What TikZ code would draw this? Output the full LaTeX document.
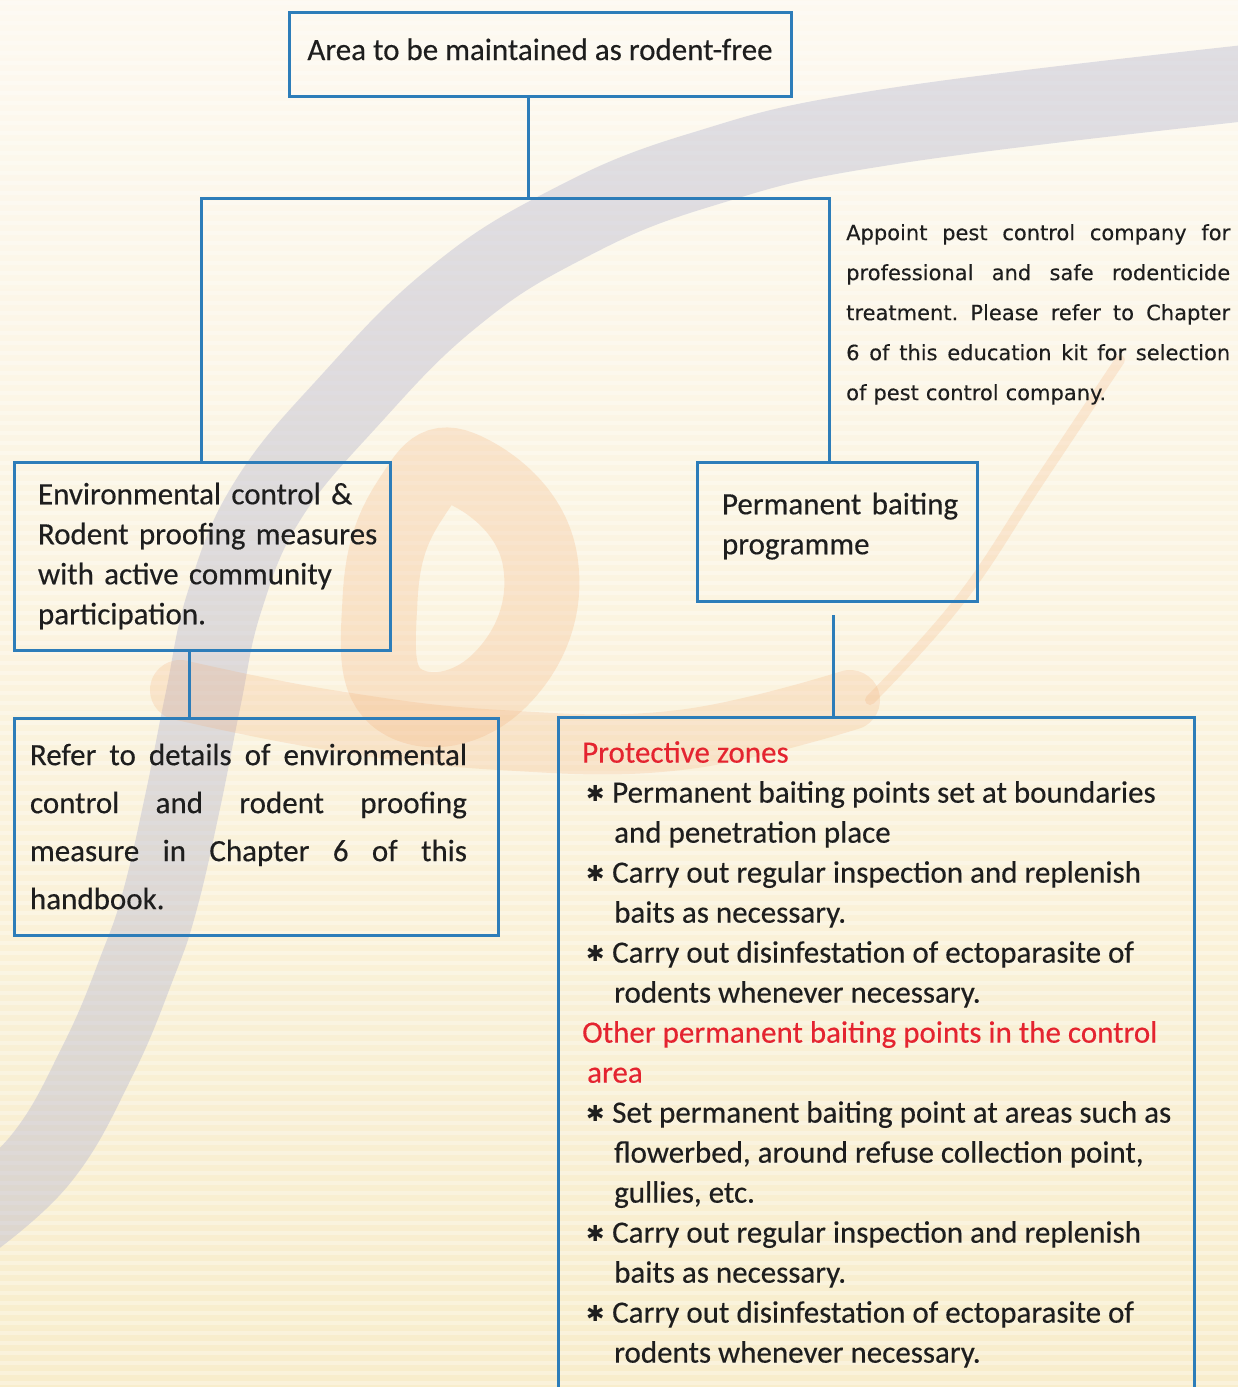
\documentclass[tikz,border=0pt]{standalone}
\usepackage{fontspec}
\setmainfont{Carlito}[FakeBold=0.35]
\newfontfamily\notefont{DejaVu Sans}[FakeBold=0.3]
\newfontfamily\symfont{DejaVu Sans}
\definecolor{boxblue}{RGB}{45,125,185}
\definecolor{txt}{RGB}{30,30,30}
\definecolor{zonered}{RGB}{228,36,48}
\definecolor{bgtop}{RGB}{253,249,240}
\definecolor{bgbot}{RGB}{248,237,204}
\definecolor{swgrey}{RGB}{180,180,205}
\definecolor{sworange}{RGB}{242,165,105}
\newcommand{\bul}{\hspace*{4pt}\makebox[26pt][l]{\raisebox{1pt}{\symfont\fontsize{22}{22}\selectfont ✱}}}
\newcommand{\cont}{\hspace*{32pt}}
\newcommand{\jline}[2]{{\spaceskip=0pt\xspaceskip=0pt\makebox[#1][s]{#2}}}
\frenchspacing
\begin{document}
\begin{tikzpicture}[x=1pt,y=-1pt,
  box/.style={draw=boxblue, line width=3pt, rectangle, inner sep=0pt, text=txt},
  link/.style={draw=boxblue, line width=3pt},
  main/.style={font=\fontsize{31}{40}\selectfont},
  deco/.style={line cap=round}
]
\useasboundingbox (0,0) rectangle (1238,1387);
\clip (0,0) rectangle (1238,1387);
% background
\shade[top color=bgtop, bottom color=bgbot] (0,0) rectangle (1238,1387);
\foreach \yy in {3,13,...,1383} \draw[white, opacity=0.3, line width=4pt] (0,\yy) -- (1238,\yy);
% decorative swooshes
\draw[deco, swgrey, opacity=0.4, line width=76pt] plot[smooth, tension=0.7] coordinates {(1320,75) (900,125) (700,170) (560,228) (450,300) (350,400) (268,500) (225,600) (203,700) (183,800) (160,900) (138,965) (98,1060) (40,1160) (-40,1230)};
\draw[deco, sworange, opacity=0.22, line width=75pt] plot[smooth cycle, tension=0.8] coordinates {(465,470) (540,560) (500,680) (400,700) (380,600) (410,500)};
\draw[deco, sworange, opacity=0.2, line width=60pt] plot[smooth, tension=0.7] coordinates {(180,690) (330,720) (500,740) (680,740) (850,700)};
\draw[deco, sworange, opacity=0.2, line width=10pt] plot[smooth, tension=0.7] coordinates {(870,700) (960,600) (1040,480) (1120,360)};
% boxes
\node[box, main, minimum width=502pt, minimum height=84pt, text height=18pt, text depth=6pt] (top) at (540,54) {Area to be maintained as rodent-free};
\node[box, main, minimum width=376pt, minimum height=188pt, text width=328pt, inner xsep=24pt, align=left] (env) at (202,556) {\mbox{Environmental control \&}\\\mbox{Rodent proofing measures}\\\mbox{with active community}\\\mbox{participation.}};
\node[box, main, minimum width=280pt, minimum height=139pt, text width=230pt, inner xsep=25pt, align=left] (perm) at (837,531.5) {\mbox{Permanent baiting}\\\mbox{programme}\\[-24pt]\mbox{}};
\node[box, main, minimum width=484pt, minimum height=217pt, text width=452pt, inner xsep=16pt, align=left, font=\fontsize{31}{48}\selectfont] (refer) at (256,826.5) {\jline{437pt}{Refer to details of environmental}\\\jline{437pt}{control and rodent proofing}\\\jline{437pt}{measure in Chapter 6 of this}\\\mbox{handbook.}};
\node[box, minimum width=636pt, minimum height=720pt, anchor=north west] (zones) at (557,716) {};
\node[main, text=txt, anchor=north west, inner sep=0pt, align=left] (ztext) at (582,741) {{\color{zonered}Protective zones}\\
\bul Permanent baiting points set at boundaries\\
\cont and penetration place\\
\bul Carry out regular inspection and replenish\\
\cont baits as necessary.\\
\bul Carry out disinfestation of ectoparasite of\\
\cont rodents whenever necessary.\\
{\color{zonered}Other permanent baiting points in the control}\\
{\color{zonered}\hspace*{5pt}area}\\
\bul Set permanent baiting point at areas such as\\
\cont flowerbed, around refuse collection point,\\
\cont gullies, etc.\\
\bul Carry out regular inspection and replenish\\
\cont baits as necessary.\\
\bul Carry out disinfestation of ectoparasite of\\
\cont rodents whenever necessary.};
% side note
\node[text=txt, anchor=north west, inner sep=0pt, text width=384pt, align=left, font=\notefont\fontsize{21}{40}\selectfont] (note) at (846,224) {\jline{384pt}{Appoint pest control company for}\\\jline{384pt}{professional and safe rodenticide}\\\jline{384pt}{treatment. Please refer to Chapter}\\\jline{384pt}{6 of this education kit for selection}\\\mbox{of pest control company.}};
% connectors
\coordinate (jc) at (528,198);
\coordinate (jl) at (201,198);
\coordinate (jr) at (829,198);
\coordinate (lx) at (189,700);
\coordinate (rs) at (833,615);
\draw[link] (top.south -| jc) -- (jc);
\draw[link] (env.north -| jl) -- (jl) -- (jr) -- (perm.north -| jr);
\draw[link] (env.south -| lx) -- (refer.north -| lx);
\draw[link] (rs) -- (zones.north -| rs);
\end{tikzpicture}
\end{document}
